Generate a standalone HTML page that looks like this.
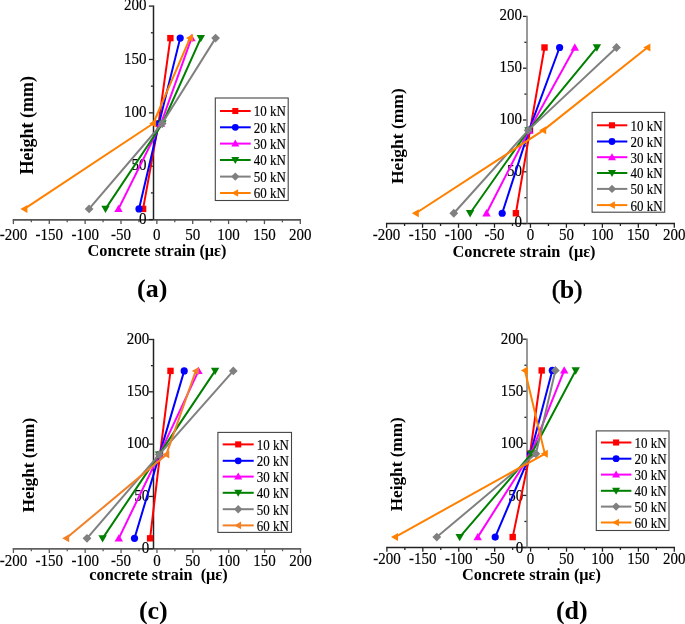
<!DOCTYPE html>
<html><head><meta charset="utf-8"><title>Concrete strain vs height</title>
<style>
html,body{margin:0;padding:0;background:#fff;}
svg{display:block;-webkit-font-smoothing:antialiased;will-change:transform;}
text{font-family:"Liberation Serif",serif;fill:#000;}
.t{stroke:#000;stroke-width:0.15px;}
</style></head>
<body>
<svg width="685" height="624" viewBox="0 0 685 624">
<rect width="685" height="624" fill="#fff"/>
<line x1="12.70" y1="219.90" x2="301.00" y2="219.90" stroke="#555" stroke-width="1.7"/>
<line x1="13.40" y1="219.90" x2="13.40" y2="224.10" stroke="#555" stroke-width="1.3"/>
<line x1="31.33" y1="219.90" x2="31.33" y2="222.30" stroke="#555" stroke-width="1.3"/>
<line x1="49.26" y1="219.90" x2="49.26" y2="224.10" stroke="#555" stroke-width="1.3"/>
<line x1="67.19" y1="219.90" x2="67.19" y2="222.30" stroke="#555" stroke-width="1.3"/>
<line x1="85.13" y1="219.90" x2="85.13" y2="224.10" stroke="#555" stroke-width="1.3"/>
<line x1="103.06" y1="219.90" x2="103.06" y2="222.30" stroke="#555" stroke-width="1.3"/>
<line x1="120.99" y1="219.90" x2="120.99" y2="224.10" stroke="#555" stroke-width="1.3"/>
<line x1="138.92" y1="219.90" x2="138.92" y2="222.30" stroke="#555" stroke-width="1.3"/>
<line x1="156.85" y1="219.90" x2="156.85" y2="224.10" stroke="#555" stroke-width="1.3"/>
<line x1="174.78" y1="219.90" x2="174.78" y2="222.30" stroke="#555" stroke-width="1.3"/>
<line x1="192.71" y1="219.90" x2="192.71" y2="224.10" stroke="#555" stroke-width="1.3"/>
<line x1="210.64" y1="219.90" x2="210.64" y2="222.30" stroke="#555" stroke-width="1.3"/>
<line x1="228.58" y1="219.90" x2="228.58" y2="224.10" stroke="#555" stroke-width="1.3"/>
<line x1="246.51" y1="219.90" x2="246.51" y2="222.30" stroke="#555" stroke-width="1.3"/>
<line x1="264.44" y1="219.90" x2="264.44" y2="224.10" stroke="#555" stroke-width="1.3"/>
<line x1="282.37" y1="219.90" x2="282.37" y2="222.30" stroke="#555" stroke-width="1.3"/>
<line x1="300.30" y1="219.90" x2="300.30" y2="224.10" stroke="#555" stroke-width="1.3"/>
<line x1="153.50" y1="5.40" x2="153.50" y2="219.60" stroke="#222" stroke-width="1.5"/>
<line x1="148.90" y1="219.60" x2="152.90" y2="219.60" stroke="#222" stroke-width="1.3"/>
<line x1="150.90" y1="192.91" x2="152.90" y2="192.91" stroke="#222" stroke-width="1.3"/>
<line x1="148.90" y1="166.22" x2="152.90" y2="166.22" stroke="#222" stroke-width="1.3"/>
<line x1="150.90" y1="139.54" x2="152.90" y2="139.54" stroke="#222" stroke-width="1.3"/>
<line x1="148.90" y1="112.85" x2="152.90" y2="112.85" stroke="#222" stroke-width="1.3"/>
<line x1="150.90" y1="86.16" x2="152.90" y2="86.16" stroke="#222" stroke-width="1.3"/>
<line x1="148.90" y1="59.47" x2="152.90" y2="59.47" stroke="#222" stroke-width="1.3"/>
<line x1="150.90" y1="32.79" x2="152.90" y2="32.79" stroke="#222" stroke-width="1.3"/>
<line x1="148.90" y1="6.10" x2="152.90" y2="6.10" stroke="#222" stroke-width="1.3"/>
<text transform="translate(13.40,239.50) scale(1,1.18)" class="t" font-size="15.0" text-anchor="middle">-200</text>
<text transform="translate(49.26,239.50) scale(1,1.18)" class="t" font-size="15.0" text-anchor="middle">-150</text>
<text transform="translate(85.13,239.50) scale(1,1.18)" class="t" font-size="15.0" text-anchor="middle">-100</text>
<text transform="translate(120.99,239.50) scale(1,1.18)" class="t" font-size="15.0" text-anchor="middle">-50</text>
<text transform="translate(156.85,239.50) scale(1,1.18)" class="t" font-size="15.0" text-anchor="middle">0</text>
<text transform="translate(192.71,239.50) scale(1,1.18)" class="t" font-size="15.0" text-anchor="middle">50</text>
<text transform="translate(228.58,239.50) scale(1,1.18)" class="t" font-size="15.0" text-anchor="middle">100</text>
<text transform="translate(264.44,239.50) scale(1,1.18)" class="t" font-size="15.0" text-anchor="middle">150</text>
<text transform="translate(300.30,239.50) scale(1,1.18)" class="t" font-size="15.0" text-anchor="middle">200</text>
<text transform="translate(146.50,223.80) scale(1,1.18)" class="t" font-size="15.0" text-anchor="end">0</text>
<text transform="translate(146.50,170.42) scale(1,1.18)" class="t" font-size="15.0" text-anchor="end">50</text>
<text transform="translate(146.50,117.05) scale(1,1.18)" class="t" font-size="15.0" text-anchor="end">100</text>
<text transform="translate(146.50,63.67) scale(1,1.18)" class="t" font-size="15.0" text-anchor="end">150</text>
<text transform="translate(146.50,10.30) scale(1,1.18)" class="t" font-size="15.0" text-anchor="end">200</text>
<polyline points="170.40,38.12 158.50,123.52 143.10,208.92" fill="none" stroke="#ff0000" stroke-width="2.0" stroke-linejoin="round"/>
<rect x="167.20" y="34.92" width="6.40" height="6.40" fill="#ff0000"/>
<rect x="155.30" y="120.32" width="6.40" height="6.40" fill="#ff0000"/>
<rect x="139.90" y="205.72" width="6.40" height="6.40" fill="#ff0000"/>
<polyline points="180.20,38.12 159.00,123.52 139.00,208.92" fill="none" stroke="#0000ff" stroke-width="2.0" stroke-linejoin="round"/>
<circle cx="180.20" cy="38.12" r="3.60" fill="#0000ff"/>
<circle cx="159.00" cy="123.52" r="3.60" fill="#0000ff"/>
<circle cx="139.00" cy="208.92" r="3.60" fill="#0000ff"/>
<polyline points="191.50,38.12 161.00,123.52 118.50,208.92" fill="none" stroke="#ff00ff" stroke-width="2.0" stroke-linejoin="round"/>
<polygon points="191.50,33.92 195.70,41.27 187.30,41.27" fill="#ff00ff"/>
<polygon points="161.00,119.32 165.20,126.67 156.80,126.67" fill="#ff00ff"/>
<polygon points="118.50,204.72 122.70,212.07 114.30,212.07" fill="#ff00ff"/>
<polyline points="200.80,38.12 162.50,123.52 105.50,208.92" fill="none" stroke="#008000" stroke-width="2.0" stroke-linejoin="round"/>
<polygon points="200.80,42.33 205.00,34.98 196.60,34.98" fill="#008000"/>
<polygon points="162.50,127.72 166.70,120.37 158.30,120.37" fill="#008000"/>
<polygon points="105.50,213.12 109.70,205.77 101.30,205.77" fill="#008000"/>
<polyline points="215.60,38.12 162.10,123.52 89.10,208.92" fill="none" stroke="#808080" stroke-width="2.0" stroke-linejoin="round"/>
<polygon points="215.60,33.73 220.00,38.12 215.60,42.52 211.20,38.12" fill="#808080"/>
<polygon points="162.10,119.12 166.50,123.52 162.10,127.92 157.70,123.52" fill="#808080"/>
<polygon points="89.10,204.52 93.50,208.92 89.10,213.32 84.70,208.92" fill="#808080"/>
<polyline points="190.00,38.12 153.20,123.52 24.40,208.92" fill="none" stroke="#ff8000" stroke-width="2.0" stroke-linejoin="round"/>
<polygon points="186.00,38.12 193.00,34.12 193.00,42.12" fill="#ff8000"/>
<polygon points="149.20,123.52 156.20,119.52 156.20,127.52" fill="#ff8000"/>
<polygon points="20.40,208.92 27.40,204.92 27.40,212.92" fill="#ff8000"/>
<rect x="215.30" y="98.00" width="72.90" height="102.50" fill="#fff" stroke="#444" stroke-width="1.1"/>
<line x1="220.00" y1="111.00" x2="250.70" y2="111.00" stroke="#ff0000" stroke-width="2.0"/>
<rect x="232.26" y="107.96" width="6.08" height="6.08" fill="#ff0000"/>
<text transform="translate(253.80,116.40) scale(1,1.2)" class="t" font-size="13">10 kN</text>
<line x1="220.00" y1="127.30" x2="250.70" y2="127.30" stroke="#0000ff" stroke-width="2.0"/>
<circle cx="235.30" cy="127.30" r="3.42" fill="#0000ff"/>
<text transform="translate(253.80,132.70) scale(1,1.2)" class="t" font-size="13">20 kN</text>
<line x1="220.00" y1="143.60" x2="250.70" y2="143.60" stroke="#ff00ff" stroke-width="2.0"/>
<polygon points="235.30,139.61 239.29,146.59 231.31,146.59" fill="#ff00ff"/>
<text transform="translate(253.80,149.00) scale(1,1.2)" class="t" font-size="13">30 kN</text>
<line x1="220.00" y1="160.00" x2="250.70" y2="160.00" stroke="#008000" stroke-width="2.0"/>
<polygon points="235.30,163.99 239.29,157.01 231.31,157.01" fill="#008000"/>
<text transform="translate(253.80,165.40) scale(1,1.2)" class="t" font-size="13">40 kN</text>
<line x1="220.00" y1="176.60" x2="250.70" y2="176.60" stroke="#808080" stroke-width="2.0"/>
<polygon points="235.30,172.42 239.48,176.60 235.30,180.78 231.12,176.60" fill="#808080"/>
<text transform="translate(253.80,182.00) scale(1,1.2)" class="t" font-size="13">50 kN</text>
<line x1="220.00" y1="193.00" x2="250.70" y2="193.00" stroke="#ff8000" stroke-width="2.0"/>
<polygon points="231.50,193.00 238.15,189.20 238.15,196.80" fill="#ff8000"/>
<text transform="translate(253.80,198.40) scale(1,1.2)" class="t" font-size="13">60 kN</text>
<text x="87.60" y="256.20" font-size="16.3" font-weight="bold" xml:space="preserve">Concrete strain (με)</text>
<text transform="translate(32.80,174.50) rotate(-90)" font-size="18" font-weight="bold">Height (mm)</text>
<text x="137.00" y="297.00" font-size="26" font-weight="bold">(a)</text>
<line x1="385.90" y1="223.60" x2="675.00" y2="223.60" stroke="#222" stroke-width="1.5"/>
<line x1="386.60" y1="223.60" x2="386.60" y2="227.80" stroke="#222" stroke-width="1.3"/>
<line x1="404.58" y1="223.60" x2="404.58" y2="226.00" stroke="#222" stroke-width="1.3"/>
<line x1="422.56" y1="223.60" x2="422.56" y2="227.80" stroke="#222" stroke-width="1.3"/>
<line x1="440.54" y1="223.60" x2="440.54" y2="226.00" stroke="#222" stroke-width="1.3"/>
<line x1="458.52" y1="223.60" x2="458.52" y2="227.80" stroke="#222" stroke-width="1.3"/>
<line x1="476.51" y1="223.60" x2="476.51" y2="226.00" stroke="#222" stroke-width="1.3"/>
<line x1="494.49" y1="223.60" x2="494.49" y2="227.80" stroke="#222" stroke-width="1.3"/>
<line x1="512.47" y1="223.60" x2="512.47" y2="226.00" stroke="#222" stroke-width="1.3"/>
<line x1="530.45" y1="223.60" x2="530.45" y2="227.80" stroke="#222" stroke-width="1.3"/>
<line x1="548.43" y1="223.60" x2="548.43" y2="226.00" stroke="#222" stroke-width="1.3"/>
<line x1="566.41" y1="223.60" x2="566.41" y2="227.80" stroke="#222" stroke-width="1.3"/>
<line x1="584.39" y1="223.60" x2="584.39" y2="226.00" stroke="#222" stroke-width="1.3"/>
<line x1="602.38" y1="223.60" x2="602.38" y2="227.80" stroke="#222" stroke-width="1.3"/>
<line x1="620.36" y1="223.60" x2="620.36" y2="226.00" stroke="#222" stroke-width="1.3"/>
<line x1="638.34" y1="223.60" x2="638.34" y2="227.80" stroke="#222" stroke-width="1.3"/>
<line x1="656.32" y1="223.60" x2="656.32" y2="226.00" stroke="#222" stroke-width="1.3"/>
<line x1="674.30" y1="223.60" x2="674.30" y2="227.80" stroke="#222" stroke-width="1.3"/>
<line x1="527.00" y1="15.70" x2="527.00" y2="223.60" stroke="#777" stroke-width="1.5"/>
<line x1="523.00" y1="223.60" x2="526.40" y2="223.60" stroke="#222" stroke-width="1.3"/>
<line x1="524.40" y1="197.70" x2="526.40" y2="197.70" stroke="#222" stroke-width="1.3"/>
<line x1="523.00" y1="171.80" x2="526.40" y2="171.80" stroke="#222" stroke-width="1.3"/>
<line x1="524.40" y1="145.90" x2="526.40" y2="145.90" stroke="#222" stroke-width="1.3"/>
<line x1="523.00" y1="120.00" x2="526.40" y2="120.00" stroke="#222" stroke-width="1.3"/>
<line x1="524.40" y1="94.10" x2="526.40" y2="94.10" stroke="#222" stroke-width="1.3"/>
<line x1="523.00" y1="68.20" x2="526.40" y2="68.20" stroke="#222" stroke-width="1.3"/>
<line x1="524.40" y1="42.30" x2="526.40" y2="42.30" stroke="#222" stroke-width="1.3"/>
<line x1="523.00" y1="16.40" x2="526.40" y2="16.40" stroke="#222" stroke-width="1.3"/>
<text transform="translate(386.60,240.10) scale(1,1.18)" class="t" font-size="15.0" text-anchor="middle">-200</text>
<text transform="translate(422.56,240.10) scale(1,1.18)" class="t" font-size="15.0" text-anchor="middle">-150</text>
<text transform="translate(458.52,240.10) scale(1,1.18)" class="t" font-size="15.0" text-anchor="middle">-100</text>
<text transform="translate(494.49,240.10) scale(1,1.18)" class="t" font-size="15.0" text-anchor="middle">-50</text>
<text transform="translate(530.45,240.10) scale(1,1.18)" class="t" font-size="15.0" text-anchor="middle">0</text>
<text transform="translate(566.41,240.10) scale(1,1.18)" class="t" font-size="15.0" text-anchor="middle">50</text>
<text transform="translate(602.38,240.10) scale(1,1.18)" class="t" font-size="15.0" text-anchor="middle">100</text>
<text transform="translate(638.34,240.10) scale(1,1.18)" class="t" font-size="15.0" text-anchor="middle">150</text>
<text transform="translate(674.30,240.10) scale(1,1.18)" class="t" font-size="15.0" text-anchor="middle">200</text>
<text transform="translate(522.00,227.30) scale(1,1.18)" class="t" font-size="15.0" text-anchor="end">0</text>
<text transform="translate(522.00,175.50) scale(1,1.18)" class="t" font-size="15.0" text-anchor="end">50</text>
<text transform="translate(522.00,123.70) scale(1,1.18)" class="t" font-size="15.0" text-anchor="end">100</text>
<text transform="translate(522.00,71.90) scale(1,1.18)" class="t" font-size="15.0" text-anchor="end">150</text>
<text transform="translate(522.00,20.10) scale(1,1.18)" class="t" font-size="15.0" text-anchor="end">200</text>
<polyline points="544.50,47.48 530.00,130.36 515.90,213.24" fill="none" stroke="#ff0000" stroke-width="2.0" stroke-linejoin="round"/>
<rect x="541.30" y="44.28" width="6.40" height="6.40" fill="#ff0000"/>
<rect x="526.80" y="127.16" width="6.40" height="6.40" fill="#ff0000"/>
<rect x="512.70" y="210.04" width="6.40" height="6.40" fill="#ff0000"/>
<polyline points="559.60,47.48 529.00,130.36 502.20,213.24" fill="none" stroke="#0000ff" stroke-width="2.0" stroke-linejoin="round"/>
<circle cx="559.60" cy="47.48" r="3.60" fill="#0000ff"/>
<circle cx="529.00" cy="130.36" r="3.60" fill="#0000ff"/>
<circle cx="502.20" cy="213.24" r="3.60" fill="#0000ff"/>
<polyline points="574.80,47.48 529.00,130.36 486.50,213.24" fill="none" stroke="#ff00ff" stroke-width="2.0" stroke-linejoin="round"/>
<polygon points="574.80,43.28 579.00,50.63 570.60,50.63" fill="#ff00ff"/>
<polygon points="529.00,126.16 533.20,133.51 524.80,133.51" fill="#ff00ff"/>
<polygon points="486.50,209.04 490.70,216.39 482.30,216.39" fill="#ff00ff"/>
<polyline points="596.90,47.48 528.50,130.36 470.10,213.24" fill="none" stroke="#008000" stroke-width="2.0" stroke-linejoin="round"/>
<polygon points="596.90,51.68 601.10,44.33 592.70,44.33" fill="#008000"/>
<polygon points="528.50,134.56 532.70,127.21 524.30,127.21" fill="#008000"/>
<polygon points="470.10,217.44 474.30,210.09 465.90,210.09" fill="#008000"/>
<polyline points="616.50,47.48 528.20,130.36 453.80,213.24" fill="none" stroke="#808080" stroke-width="2.0" stroke-linejoin="round"/>
<polygon points="616.50,43.08 620.90,47.48 616.50,51.88 612.10,47.48" fill="#808080"/>
<polygon points="528.20,125.96 532.60,130.36 528.20,134.76 523.80,130.36" fill="#808080"/>
<polygon points="453.80,208.84 458.20,213.24 453.80,217.64 449.40,213.24" fill="#808080"/>
<polyline points="647.40,47.48 543.20,130.36 415.80,213.24" fill="none" stroke="#ff8000" stroke-width="2.0" stroke-linejoin="round"/>
<polygon points="643.40,47.48 650.40,43.48 650.40,51.48" fill="#ff8000"/>
<polygon points="539.20,130.36 546.20,126.36 546.20,134.36" fill="#ff8000"/>
<polygon points="411.80,213.24 418.80,209.24 418.80,217.24" fill="#ff8000"/>
<rect x="592.10" y="112.40" width="72.60" height="99.80" fill="#fff" stroke="#444" stroke-width="1.1"/>
<line x1="597.00" y1="125.30" x2="627.30" y2="125.30" stroke="#ff0000" stroke-width="2.0"/>
<rect x="608.96" y="122.26" width="6.08" height="6.08" fill="#ff0000"/>
<text transform="translate(630.50,130.70) scale(1,1.2)" class="t" font-size="13">10 kN</text>
<line x1="597.00" y1="141.50" x2="627.30" y2="141.50" stroke="#0000ff" stroke-width="2.0"/>
<circle cx="612.00" cy="141.50" r="3.42" fill="#0000ff"/>
<text transform="translate(630.50,146.90) scale(1,1.2)" class="t" font-size="13">20 kN</text>
<line x1="597.00" y1="157.20" x2="627.30" y2="157.20" stroke="#ff00ff" stroke-width="2.0"/>
<polygon points="612.00,153.21 615.99,160.19 608.01,160.19" fill="#ff00ff"/>
<text transform="translate(630.50,162.60) scale(1,1.2)" class="t" font-size="13">30 kN</text>
<line x1="597.00" y1="173.00" x2="627.30" y2="173.00" stroke="#008000" stroke-width="2.0"/>
<polygon points="612.00,176.99 615.99,170.01 608.01,170.01" fill="#008000"/>
<text transform="translate(630.50,178.40) scale(1,1.2)" class="t" font-size="13">40 kN</text>
<line x1="597.00" y1="188.90" x2="627.30" y2="188.90" stroke="#808080" stroke-width="2.0"/>
<polygon points="612.00,184.72 616.18,188.90 612.00,193.08 607.82,188.90" fill="#808080"/>
<text transform="translate(630.50,194.30) scale(1,1.2)" class="t" font-size="13">50 kN</text>
<line x1="597.00" y1="205.10" x2="627.30" y2="205.10" stroke="#ff8000" stroke-width="2.0"/>
<polygon points="608.20,205.10 614.85,201.30 614.85,208.90" fill="#ff8000"/>
<text transform="translate(630.50,210.50) scale(1,1.2)" class="t" font-size="13">60 kN</text>
<text x="452.60" y="256.70" font-size="16.3" font-weight="bold" xml:space="preserve">Concrete strain  (με)</text>
<text transform="translate(403.00,184.00) rotate(-90)" font-size="17.5" font-weight="bold">Height (mm)</text>
<text x="551.80" y="297.50" font-size="26" stroke="#000" stroke-width="0.5" letter-spacing="-0.6">(<tspan font-weight="bold" stroke-width="0">b</tspan>)</text>
<line x1="12.70" y1="548.80" x2="301.20" y2="548.80" stroke="#606060" stroke-width="1.7"/>
<line x1="13.40" y1="548.80" x2="13.40" y2="553.00" stroke="#606060" stroke-width="1.3"/>
<line x1="31.34" y1="548.80" x2="31.34" y2="551.20" stroke="#606060" stroke-width="1.3"/>
<line x1="49.29" y1="548.80" x2="49.29" y2="553.00" stroke="#606060" stroke-width="1.3"/>
<line x1="67.23" y1="548.80" x2="67.23" y2="551.20" stroke="#606060" stroke-width="1.3"/>
<line x1="85.18" y1="548.80" x2="85.18" y2="553.00" stroke="#606060" stroke-width="1.3"/>
<line x1="103.12" y1="548.80" x2="103.12" y2="551.20" stroke="#606060" stroke-width="1.3"/>
<line x1="121.06" y1="548.80" x2="121.06" y2="553.00" stroke="#606060" stroke-width="1.3"/>
<line x1="139.01" y1="548.80" x2="139.01" y2="551.20" stroke="#606060" stroke-width="1.3"/>
<line x1="156.95" y1="548.80" x2="156.95" y2="553.00" stroke="#606060" stroke-width="1.3"/>
<line x1="174.89" y1="548.80" x2="174.89" y2="551.20" stroke="#606060" stroke-width="1.3"/>
<line x1="192.84" y1="548.80" x2="192.84" y2="553.00" stroke="#606060" stroke-width="1.3"/>
<line x1="210.78" y1="548.80" x2="210.78" y2="551.20" stroke="#606060" stroke-width="1.3"/>
<line x1="228.72" y1="548.80" x2="228.72" y2="553.00" stroke="#606060" stroke-width="1.3"/>
<line x1="246.67" y1="548.80" x2="246.67" y2="551.20" stroke="#606060" stroke-width="1.3"/>
<line x1="264.61" y1="548.80" x2="264.61" y2="553.00" stroke="#606060" stroke-width="1.3"/>
<line x1="282.56" y1="548.80" x2="282.56" y2="551.20" stroke="#606060" stroke-width="1.3"/>
<line x1="300.50" y1="548.80" x2="300.50" y2="553.00" stroke="#606060" stroke-width="1.3"/>
<line x1="153.50" y1="338.80" x2="153.50" y2="548.80" stroke="#222" stroke-width="1.5"/>
<line x1="148.90" y1="548.80" x2="152.90" y2="548.80" stroke="#222" stroke-width="1.3"/>
<line x1="150.90" y1="522.64" x2="152.90" y2="522.64" stroke="#222" stroke-width="1.3"/>
<line x1="148.90" y1="496.47" x2="152.90" y2="496.47" stroke="#222" stroke-width="1.3"/>
<line x1="150.90" y1="470.31" x2="152.90" y2="470.31" stroke="#222" stroke-width="1.3"/>
<line x1="148.90" y1="444.15" x2="152.90" y2="444.15" stroke="#222" stroke-width="1.3"/>
<line x1="150.90" y1="417.99" x2="152.90" y2="417.99" stroke="#222" stroke-width="1.3"/>
<line x1="148.90" y1="391.82" x2="152.90" y2="391.82" stroke="#222" stroke-width="1.3"/>
<line x1="150.90" y1="365.66" x2="152.90" y2="365.66" stroke="#222" stroke-width="1.3"/>
<line x1="148.90" y1="339.50" x2="152.90" y2="339.50" stroke="#222" stroke-width="1.3"/>
<text transform="translate(13.40,565.60) scale(1,1.18)" class="t" font-size="15.0" text-anchor="middle">-200</text>
<text transform="translate(49.29,565.60) scale(1,1.18)" class="t" font-size="15.0" text-anchor="middle">-150</text>
<text transform="translate(85.18,565.60) scale(1,1.18)" class="t" font-size="15.0" text-anchor="middle">-100</text>
<text transform="translate(121.06,565.60) scale(1,1.18)" class="t" font-size="15.0" text-anchor="middle">-50</text>
<text transform="translate(156.95,565.60) scale(1,1.18)" class="t" font-size="15.0" text-anchor="middle">0</text>
<text transform="translate(192.84,565.60) scale(1,1.18)" class="t" font-size="15.0" text-anchor="middle">50</text>
<text transform="translate(228.72,565.60) scale(1,1.18)" class="t" font-size="15.0" text-anchor="middle">100</text>
<text transform="translate(264.61,565.60) scale(1,1.18)" class="t" font-size="15.0" text-anchor="middle">150</text>
<text transform="translate(300.50,565.60) scale(1,1.18)" class="t" font-size="15.0" text-anchor="middle">200</text>
<text transform="translate(149.20,553.10) scale(1,1.18)" class="t" font-size="15.0" text-anchor="end">0</text>
<text transform="translate(149.20,500.77) scale(1,1.18)" class="t" font-size="15.0" text-anchor="end">50</text>
<text transform="translate(149.20,448.45) scale(1,1.18)" class="t" font-size="15.0" text-anchor="end">100</text>
<text transform="translate(149.20,396.12) scale(1,1.18)" class="t" font-size="15.0" text-anchor="end">150</text>
<text transform="translate(149.20,343.80) scale(1,1.18)" class="t" font-size="15.0" text-anchor="end">200</text>
<polyline points="170.50,370.89 160.00,454.61 150.10,538.33" fill="none" stroke="#ff0000" stroke-width="2.0" stroke-linejoin="round"/>
<rect x="167.30" y="367.69" width="6.40" height="6.40" fill="#ff0000"/>
<rect x="156.80" y="451.41" width="6.40" height="6.40" fill="#ff0000"/>
<rect x="146.90" y="535.13" width="6.40" height="6.40" fill="#ff0000"/>
<polyline points="184.20,370.89 159.50,454.61 134.50,538.33" fill="none" stroke="#0000ff" stroke-width="2.0" stroke-linejoin="round"/>
<circle cx="184.20" cy="370.89" r="3.60" fill="#0000ff"/>
<circle cx="159.50" cy="454.61" r="3.60" fill="#0000ff"/>
<circle cx="134.50" cy="538.33" r="3.60" fill="#0000ff"/>
<polyline points="198.50,370.89 159.30,454.61 118.80,538.33" fill="none" stroke="#ff00ff" stroke-width="2.0" stroke-linejoin="round"/>
<polygon points="198.50,366.69 202.70,374.04 194.30,374.04" fill="#ff00ff"/>
<polygon points="159.30,450.41 163.50,457.76 155.10,457.76" fill="#ff00ff"/>
<polygon points="118.80,534.13 123.00,541.48 114.60,541.48" fill="#ff00ff"/>
<polyline points="215.10,370.89 159.00,454.61 102.60,538.33" fill="none" stroke="#008000" stroke-width="2.0" stroke-linejoin="round"/>
<polygon points="215.10,375.09 219.30,367.75 210.90,367.75" fill="#008000"/>
<polygon points="159.00,458.81 163.20,451.46 154.80,451.46" fill="#008000"/>
<polygon points="102.60,542.53 106.80,535.18 98.40,535.18" fill="#008000"/>
<polyline points="233.30,370.89 159.20,454.61 87.00,538.33" fill="none" stroke="#808080" stroke-width="2.0" stroke-linejoin="round"/>
<polygon points="233.30,366.50 237.70,370.89 233.30,375.29 228.90,370.89" fill="#808080"/>
<polygon points="159.20,450.21 163.60,454.61 159.20,459.01 154.80,454.61" fill="#808080"/>
<polygon points="87.00,533.93 91.40,538.33 87.00,542.73 82.60,538.33" fill="#808080"/>
<polyline points="195.80,370.89 166.30,454.61 66.20,538.33" fill="none" stroke="#f28026" stroke-width="2.0" stroke-linejoin="round"/>
<polygon points="191.80,370.89 198.80,366.89 198.80,374.89" fill="#f28026"/>
<polygon points="162.30,454.61 169.30,450.61 169.30,458.61" fill="#f28026"/>
<polygon points="62.20,538.33 69.20,534.33 69.20,542.33" fill="#f28026"/>
<rect x="217.90" y="432.40" width="73.60" height="100.00" fill="#fff" stroke="#444" stroke-width="1.1"/>
<line x1="222.70" y1="444.40" x2="253.70" y2="444.40" stroke="#ff0000" stroke-width="2.0"/>
<rect x="235.16" y="441.36" width="6.08" height="6.08" fill="#ff0000"/>
<text transform="translate(256.70,449.80) scale(1,1.2)" class="t" font-size="13">10 kN</text>
<line x1="222.70" y1="460.80" x2="253.70" y2="460.80" stroke="#0000ff" stroke-width="2.0"/>
<circle cx="238.20" cy="460.80" r="3.42" fill="#0000ff"/>
<text transform="translate(256.70,466.20) scale(1,1.2)" class="t" font-size="13">20 kN</text>
<line x1="222.70" y1="476.60" x2="253.70" y2="476.60" stroke="#ff00ff" stroke-width="2.0"/>
<polygon points="238.20,472.61 242.19,479.59 234.21,479.59" fill="#ff00ff"/>
<text transform="translate(256.70,482.00) scale(1,1.2)" class="t" font-size="13">30 kN</text>
<line x1="222.70" y1="492.80" x2="253.70" y2="492.80" stroke="#008000" stroke-width="2.0"/>
<polygon points="238.20,496.79 242.19,489.81 234.21,489.81" fill="#008000"/>
<text transform="translate(256.70,498.20) scale(1,1.2)" class="t" font-size="13">40 kN</text>
<line x1="222.70" y1="509.20" x2="253.70" y2="509.20" stroke="#808080" stroke-width="2.0"/>
<polygon points="238.20,505.02 242.38,509.20 238.20,513.38 234.02,509.20" fill="#808080"/>
<text transform="translate(256.70,514.60) scale(1,1.2)" class="t" font-size="13">50 kN</text>
<line x1="222.70" y1="525.40" x2="253.70" y2="525.40" stroke="#f28026" stroke-width="2.0"/>
<polygon points="234.40,525.40 241.05,521.60 241.05,529.20" fill="#f28026"/>
<text transform="translate(256.70,530.80) scale(1,1.2)" class="t" font-size="13">60 kN</text>
<text x="89.30" y="579.90" font-size="16.3" font-weight="bold" xml:space="preserve">concrete strain  (με)</text>
<text transform="translate(34.00,512.40) rotate(-90)" font-size="17.3" font-weight="bold">Height (mm)</text>
<text x="138.90" y="618.90" font-size="26" font-weight="bold">(c)</text>
<line x1="386.20" y1="547.50" x2="675.00" y2="547.50" stroke="#222" stroke-width="1.5"/>
<line x1="386.90" y1="547.50" x2="386.90" y2="551.70" stroke="#222" stroke-width="1.3"/>
<line x1="404.86" y1="547.50" x2="404.86" y2="549.90" stroke="#222" stroke-width="1.3"/>
<line x1="422.82" y1="547.50" x2="422.82" y2="551.70" stroke="#222" stroke-width="1.3"/>
<line x1="440.79" y1="547.50" x2="440.79" y2="549.90" stroke="#222" stroke-width="1.3"/>
<line x1="458.75" y1="547.50" x2="458.75" y2="551.70" stroke="#222" stroke-width="1.3"/>
<line x1="476.71" y1="547.50" x2="476.71" y2="549.90" stroke="#222" stroke-width="1.3"/>
<line x1="494.67" y1="547.50" x2="494.67" y2="551.70" stroke="#222" stroke-width="1.3"/>
<line x1="512.64" y1="547.50" x2="512.64" y2="549.90" stroke="#222" stroke-width="1.3"/>
<line x1="530.60" y1="547.50" x2="530.60" y2="551.70" stroke="#222" stroke-width="1.3"/>
<line x1="548.56" y1="547.50" x2="548.56" y2="549.90" stroke="#222" stroke-width="1.3"/>
<line x1="566.52" y1="547.50" x2="566.52" y2="551.70" stroke="#222" stroke-width="1.3"/>
<line x1="584.49" y1="547.50" x2="584.49" y2="549.90" stroke="#222" stroke-width="1.3"/>
<line x1="602.45" y1="547.50" x2="602.45" y2="551.70" stroke="#222" stroke-width="1.3"/>
<line x1="620.41" y1="547.50" x2="620.41" y2="549.90" stroke="#222" stroke-width="1.3"/>
<line x1="638.38" y1="547.50" x2="638.38" y2="551.70" stroke="#222" stroke-width="1.3"/>
<line x1="656.34" y1="547.50" x2="656.34" y2="549.90" stroke="#222" stroke-width="1.3"/>
<line x1="674.30" y1="547.50" x2="674.30" y2="551.70" stroke="#222" stroke-width="1.3"/>
<line x1="527.00" y1="338.50" x2="527.00" y2="547.50" stroke="#777" stroke-width="1.5"/>
<line x1="523.00" y1="547.50" x2="526.40" y2="547.50" stroke="#222" stroke-width="1.3"/>
<line x1="524.40" y1="521.46" x2="526.40" y2="521.46" stroke="#222" stroke-width="1.3"/>
<line x1="523.00" y1="495.43" x2="526.40" y2="495.43" stroke="#222" stroke-width="1.3"/>
<line x1="524.40" y1="469.39" x2="526.40" y2="469.39" stroke="#222" stroke-width="1.3"/>
<line x1="523.00" y1="443.35" x2="526.40" y2="443.35" stroke="#222" stroke-width="1.3"/>
<line x1="524.40" y1="417.31" x2="526.40" y2="417.31" stroke="#222" stroke-width="1.3"/>
<line x1="523.00" y1="391.27" x2="526.40" y2="391.27" stroke="#222" stroke-width="1.3"/>
<line x1="524.40" y1="365.24" x2="526.40" y2="365.24" stroke="#222" stroke-width="1.3"/>
<line x1="523.00" y1="339.20" x2="526.40" y2="339.20" stroke="#222" stroke-width="1.3"/>
<text transform="translate(386.90,564.30) scale(1,1.18)" class="t" font-size="15.0" text-anchor="middle">-200</text>
<text transform="translate(422.82,564.30) scale(1,1.18)" class="t" font-size="15.0" text-anchor="middle">-150</text>
<text transform="translate(458.75,564.30) scale(1,1.18)" class="t" font-size="15.0" text-anchor="middle">-100</text>
<text transform="translate(494.67,564.30) scale(1,1.18)" class="t" font-size="15.0" text-anchor="middle">-50</text>
<text transform="translate(530.60,564.30) scale(1,1.18)" class="t" font-size="15.0" text-anchor="middle">0</text>
<text transform="translate(566.52,564.30) scale(1,1.18)" class="t" font-size="15.0" text-anchor="middle">50</text>
<text transform="translate(602.45,564.30) scale(1,1.18)" class="t" font-size="15.0" text-anchor="middle">100</text>
<text transform="translate(638.38,564.30) scale(1,1.18)" class="t" font-size="15.0" text-anchor="middle">150</text>
<text transform="translate(674.30,564.30) scale(1,1.18)" class="t" font-size="15.0" text-anchor="middle">200</text>
<text transform="translate(523.20,552.60) scale(1,1.18)" class="t" font-size="15.0" text-anchor="end">0</text>
<text transform="translate(523.20,500.53) scale(1,1.18)" class="t" font-size="15.0" text-anchor="end">50</text>
<text transform="translate(523.20,448.45) scale(1,1.18)" class="t" font-size="15.0" text-anchor="end">100</text>
<text transform="translate(523.20,396.38) scale(1,1.18)" class="t" font-size="15.0" text-anchor="end">150</text>
<text transform="translate(523.20,344.30) scale(1,1.18)" class="t" font-size="15.0" text-anchor="end">200</text>
<polyline points="541.70,370.44 530.00,453.76 512.70,537.09" fill="none" stroke="#ff0000" stroke-width="2.0" stroke-linejoin="round"/>
<rect x="538.50" y="367.25" width="6.40" height="6.40" fill="#ff0000"/>
<rect x="526.80" y="450.56" width="6.40" height="6.40" fill="#ff0000"/>
<rect x="509.50" y="533.88" width="6.40" height="6.40" fill="#ff0000"/>
<polyline points="552.30,370.44 530.50,453.76 495.20,537.09" fill="none" stroke="#0000ff" stroke-width="2.0" stroke-linejoin="round"/>
<circle cx="552.30" cy="370.44" r="3.60" fill="#0000ff"/>
<circle cx="530.50" cy="453.76" r="3.60" fill="#0000ff"/>
<circle cx="495.20" cy="537.09" r="3.60" fill="#0000ff"/>
<polyline points="564.20,370.44 530.80,453.76 477.70,537.09" fill="none" stroke="#ff00ff" stroke-width="2.0" stroke-linejoin="round"/>
<polygon points="564.20,366.25 568.40,373.59 560.00,373.59" fill="#ff00ff"/>
<polygon points="530.80,449.56 535.00,456.91 526.60,456.91" fill="#ff00ff"/>
<polygon points="477.70,532.88 481.90,540.24 473.50,540.24" fill="#ff00ff"/>
<polyline points="575.70,370.44 531.50,453.76 459.70,537.09" fill="none" stroke="#008000" stroke-width="2.0" stroke-linejoin="round"/>
<polygon points="575.70,374.64 579.90,367.30 571.50,367.30" fill="#008000"/>
<polygon points="531.50,457.96 535.70,450.62 527.30,450.62" fill="#008000"/>
<polygon points="459.70,541.29 463.90,533.94 455.50,533.94" fill="#008000"/>
<polyline points="555.40,370.44 535.90,453.76 436.80,537.09" fill="none" stroke="#808080" stroke-width="2.0" stroke-linejoin="round"/>
<polygon points="555.40,366.05 559.80,370.44 555.40,374.84 551.00,370.44" fill="#808080"/>
<polygon points="535.90,449.37 540.30,453.76 535.90,458.16 531.50,453.76" fill="#808080"/>
<polygon points="436.80,532.69 441.20,537.09 436.80,541.49 432.40,537.09" fill="#808080"/>
<polyline points="524.90,370.44 544.80,453.76 395.00,537.09" fill="none" stroke="#ff8000" stroke-width="2.0" stroke-linejoin="round"/>
<polygon points="520.90,370.44 527.90,366.44 527.90,374.44" fill="#ff8000"/>
<polygon points="540.80,453.76 547.80,449.76 547.80,457.76" fill="#ff8000"/>
<polygon points="391.00,537.09 398.00,533.09 398.00,541.09" fill="#ff8000"/>
<rect x="596.30" y="430.90" width="72.70" height="99.60" fill="#fff" stroke="#444" stroke-width="1.1"/>
<line x1="600.90" y1="442.50" x2="631.40" y2="442.50" stroke="#ff0000" stroke-width="2.0"/>
<rect x="613.06" y="439.46" width="6.08" height="6.08" fill="#ff0000"/>
<text transform="translate(634.40,447.90) scale(1,1.2)" class="t" font-size="13">10 kN</text>
<line x1="600.90" y1="458.70" x2="631.40" y2="458.70" stroke="#0000ff" stroke-width="2.0"/>
<circle cx="616.10" cy="458.70" r="3.42" fill="#0000ff"/>
<text transform="translate(634.40,464.10) scale(1,1.2)" class="t" font-size="13">20 kN</text>
<line x1="600.90" y1="474.60" x2="631.40" y2="474.60" stroke="#ff00ff" stroke-width="2.0"/>
<polygon points="616.10,470.61 620.09,477.59 612.11,477.59" fill="#ff00ff"/>
<text transform="translate(634.40,480.00) scale(1,1.2)" class="t" font-size="13">30 kN</text>
<line x1="600.90" y1="490.80" x2="631.40" y2="490.80" stroke="#008000" stroke-width="2.0"/>
<polygon points="616.10,494.79 620.09,487.81 612.11,487.81" fill="#008000"/>
<text transform="translate(634.40,496.20) scale(1,1.2)" class="t" font-size="13">40 kN</text>
<line x1="600.90" y1="506.60" x2="631.40" y2="506.60" stroke="#808080" stroke-width="2.0"/>
<polygon points="616.10,502.42 620.28,506.60 616.10,510.78 611.92,506.60" fill="#808080"/>
<text transform="translate(634.40,512.00) scale(1,1.2)" class="t" font-size="13">50 kN</text>
<line x1="600.90" y1="522.50" x2="631.40" y2="522.50" stroke="#ff8000" stroke-width="2.0"/>
<polygon points="612.30,522.50 618.95,518.70 618.95,526.30" fill="#ff8000"/>
<text transform="translate(634.40,527.90) scale(1,1.2)" class="t" font-size="13">60 kN</text>
<text x="462.10" y="579.90" font-size="16.3" font-weight="bold" xml:space="preserve">Concrete strain (με)</text>
<text transform="translate(402.20,511.30) rotate(-90)" font-size="17.2" font-weight="bold">Height (mm)</text>
<text x="555.90" y="618.90" font-size="26" font-weight="bold">(d)</text>
</svg>
</body></html>
